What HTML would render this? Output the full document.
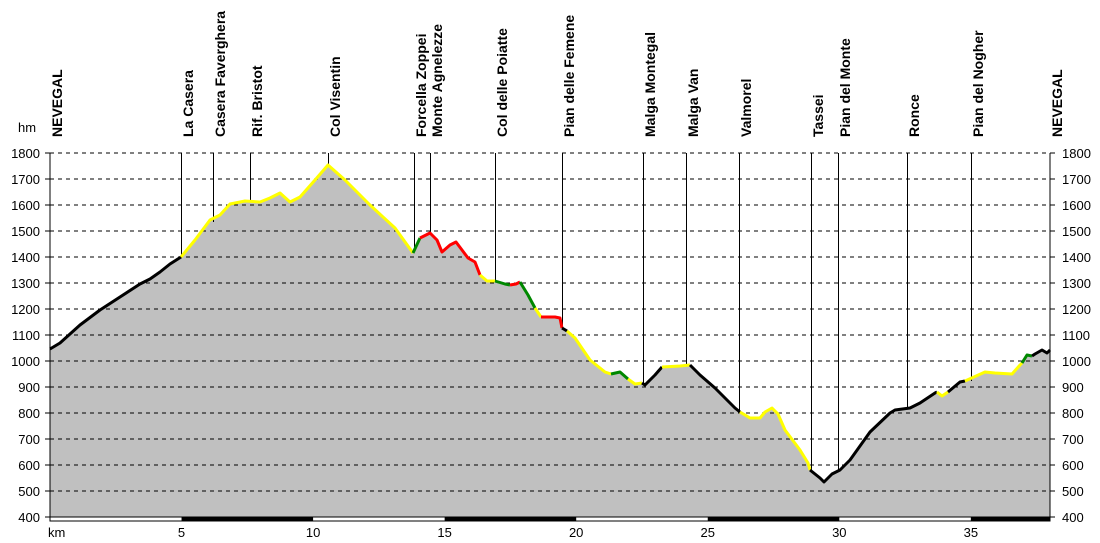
<!DOCTYPE html>
<html><head><meta charset="utf-8"><style>body{margin:0;background:#fff}svg{display:block}</style></head>
<body>
<svg id="s" width="1100" height="543" xmlns="http://www.w3.org/2000/svg" font-family="Liberation Sans, Arial, sans-serif"></svg>
<script>
const s=document.getElementById('s');let h='';
const Y=v=>153+(1800-v)*0.26;
const segs=[
['#000',[[50,349],[60,343],[80,325],[100,310],[120,297],[140,284],[150,279],[160,272],[170,264],[181,257]]],
['#ff0',[[181,257],[195,240],[210,220],[220,215],[230,204],[245,201],[260,202],[270,198],[280,193],[290,202],[300,197],[315,180],[328,165],[345,180],[370,205],[395,228],[413,253]]],
['#080',[[413,253],[420,238]]],
['#f00',[[420,238],[430,233],[437,240],[442,252],[450,245],[456,242],[462,250],[468,258],[475,262],[480,275]]],
['#ff0',[[480,275],[487,281],[495,281]]],
['#080',[[495,281],[505,284],[510,285]]],
['#f00',[[510,285],[516,284],[520,282]]],
['#080',[[520,282],[528,295],[535,308]]],
['#ff0',[[535,308],[541,317]]],
['#f00',[[541,317],[555,317],[560,318],[562,328]]],
['#000',[[562,328],[567,331]]],
['#ff0',[[567,331],[575,338],[590,360],[605,372],[611,374]]],
['#080',[[611,374],[620,372],[628,379]]],
['#ff0',[[628,379],[635,384],[642,383]]],
['#000',[[642,383],[645,385],[655,375],[662,367]]],
['#ff0',[[662,367],[680,366],[690,365]]],
['#000',[[690,365],[700,375],[715,388],[735,408],[740,412]]],
['#ff0',[[740,412],[750,418],[760,418],[765,412],[772,408],[778,414],[785,430],[800,450],[808,463],[810,470]]],
['#000',[[810,470],[820,478],[824,482],[832,474],[840,470],[850,460],[870,432],[890,413],[895,410],[910,408],[920,403],[935,393],[937,392]]],
['#ff0',[[937,392],[942,396],[948,392]]],
['#000',[[948,392],[960,382],[965,381]]],
['#ff0',[[965,381],[985,372],[995,373],[1012,374],[1020,365],[1022,363]]],
['#080',[[1022,363],[1027,355],[1032,356]]],
['#000',[[1032,356],[1035,354],[1042,350],[1047,353],[1050,350]]]
];
let all=[];segs.forEach(g=>all=all.concat(g[1]));
h+=`<polygon fill="#c0c0c0" points="50,517 ${all.map(p=>p.join(',')).join(' ')} 1050,517"/>`;
for(let v=400;v<=1800;v+=100){const y=Y(v);
 if(v>400)h+=`<line x1="50" x2="1050" y1="${y}" y2="${y}" stroke="#000" stroke-dasharray="4,4"/>`;
 h+=`<line x1="45" x2="50" y1="${y}" y2="${y}" stroke="#000"/><line x1="1050" x2="1055" y1="${y}" y2="${y}" stroke="#000"/>`;
 h+=`<text x="40" y="${y+5}" font-size="13" text-anchor="end">${v}</text><text x="1062" y="${y+5}" font-size="13">${v}</text>`;}
h+=`<text x="18" y="132" font-size="13">hm</text><text x="48" y="537" font-size="13">km</text>`;
h+=`<line x1="50" y1="153" x2="50" y2="517" stroke="#000"/><line x1="1050" y1="153" x2="1050" y2="517" stroke="#000"/><line x1="50" y1="517" x2="1050" y2="517" stroke="#000"/>`;
const kx=k=>50+k*26.31;
h+=`<rect x="50" y="517" width="1000" height="4" fill="#fff" stroke="#000" stroke-width="1"/>`;
[[5,10],[15,20],[25,30],[35,38]].forEach(a=>h+=`<rect x="${kx(a[0])}" y="517" width="${kx(a[1])-kx(a[0])}" height="4.5" fill="#000"/>`);
[5,10,15,20,25,30,35].forEach(k=>h+=`<text x="${kx(k)}" y="537" font-size="13" text-anchor="middle">${k}</text>`);
const labs=[['NEVEGAL',50,0],['La Casera',181,257],['Casera Faverghera',213,222],['Rif. Bristot',250,202],['Col Visentin',328,165],['Forcella Zoppei',414,252],['Monte Agnelezze',430,234],['Col delle Poiatte',495,281],['Pian delle Femene',562,328],['Malga Montegal',643,384],['Malga Van',686,366],['Valmorel',739,411],['Tassei',811,472],['Pian del Monte',838,470],['Ronce',907,408],['Pian del Nogher',971,381],['NEVEGAL',1050,0]];
labs.forEach(l=>{ if(l[2])h+=`<line x1="${l[1]+0.5}" x2="${l[1]+0.5}" y1="153" y2="${l[2]}" stroke="#000"/>`;
 const bx=l[1]+12; h+=`<text transform="translate(${bx},137) rotate(-90)" font-size="14" font-weight="bold">${l[0]}</text>`;});
segs.forEach(g=>h+=`<polyline fill="none" stroke="${g[0]}" stroke-width="3" stroke-linejoin="round" points="${g[1].map(p=>p.join(',')).join(' ')}"/>`);
s.innerHTML=h;
</script>
</body></html>
